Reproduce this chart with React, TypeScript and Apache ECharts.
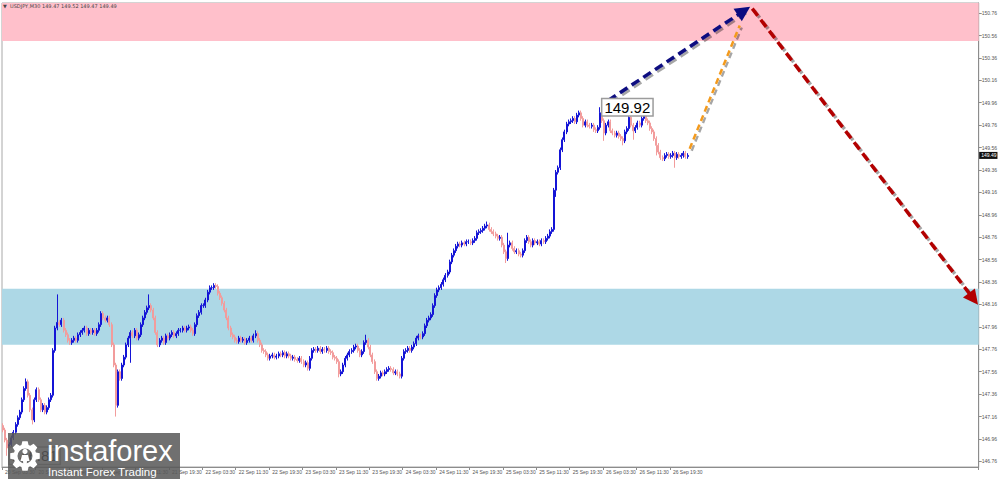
import React, { useEffect, useRef } from "react";
import * as echarts from "echarts";

// ---- data ----
const HEADER = ["USDJPY,M30", "149.47", "149.52", "149.47", "149.49"];
const FIRST_OPEN = 147.08;
const CLOSES: number[] = [
  147.04, 146.95, 146.88, 146.91, 146.97, 147.02, 147.09, 147.15, 147.2, 147.31,
  147.41, 147.47, 147.35, 147.22, 147.13, 147.31, 147.4, 147.31, 147.22, 147.26,
  147.2, 147.24, 147.31, 147.35, 147.75, 147.95, 148.0, 147.98, 148.02, 147.93,
  147.89, 147.84, 147.82, 147.84, 147.86, 147.84, 147.89, 147.91, 147.93, 147.95,
  147.9, 147.93, 147.91, 147.93, 147.9, 147.93, 147.98, 148.08, 148.04, 148.02,
  148.04, 147.98, 147.8, 147.62, 147.26, 147.56, 147.5, 147.62, 147.69, 147.8,
  147.86, 147.91, 147.88, 147.93, 147.86, 147.89, 147.98, 148.04, 148.09, 148.13,
  148.15, 148.11, 148.04, 147.91, 147.8, 147.84, 147.86, 147.82, 147.88, 147.86,
  147.89, 147.91, 147.88, 147.9, 147.93, 147.93, 147.95, 147.93, 147.95, 147.96,
  147.93, 147.9, 147.98, 148.06, 148.09, 148.15, 148.15, 148.2, 148.27, 148.31,
  148.31, 148.33, 148.32, 148.26, 148.22, 148.17, 148.11, 148.04, 147.95, 147.89,
  147.87, 147.84, 147.83, 147.86, 147.84, 147.85, 147.82, 147.84, 147.86, 147.84,
  147.88, 147.9, 147.84, 147.8, 147.75, 147.74, 147.71, 147.68, 147.7, 147.71,
  147.69, 147.7, 147.72, 147.71, 147.73, 147.7, 147.72, 147.7, 147.68, 147.69,
  147.67, 147.66, 147.68, 147.65, 147.62, 147.64, 147.59, 147.68, 147.75, 147.76,
  147.75, 147.77, 147.74, 147.76, 147.75, 147.77, 147.74, 147.73, 147.69, 147.68,
  147.65, 147.54, 147.56, 147.62, 147.68, 147.71, 147.74, 147.75, 147.78, 147.79,
  147.75, 147.71, 147.74, 147.82, 147.84, 147.78, 147.71, 147.65, 147.56, 147.5,
  147.52, 147.55, 147.54, 147.56, 147.58, 147.59, 147.58, 147.55, 147.56, 147.54,
  147.52, 147.68, 147.74, 147.75, 147.77, 147.75, 147.78, 147.81, 147.86, 147.88,
  147.87, 147.9, 147.97, 148.02, 148.04, 148.07, 148.15, 148.24, 148.29, 148.31,
  148.34, 148.38, 148.42, 148.45, 148.54, 148.6, 148.64, 148.68, 148.7, 148.69,
  148.71, 148.7, 148.72, 148.72, 148.71, 148.73, 148.75, 148.8, 148.81, 148.82,
  148.84, 148.86, 148.87, 148.83, 148.81, 148.79, 148.77, 148.75, 148.76, 148.69,
  148.63, 148.57, 148.69, 148.71, 148.66, 148.63, 148.64, 148.61, 148.6, 148.64,
  148.73, 148.76, 148.72, 148.69, 148.73, 148.71, 148.72, 148.7, 148.73, 148.72,
  148.75, 148.77, 148.81, 148.83, 149.18, 149.34, 149.38, 149.54, 149.63, 149.7,
  149.77, 149.79, 149.8, 149.82, 149.79, 149.85, 149.87, 149.82, 149.76, 149.79,
  149.76, 149.75, 149.76, 149.72, 149.71, 149.74, 149.87, 149.8, 149.69, 149.76,
  149.79, 149.71, 149.69, 149.67, 149.69, 149.66, 149.64, 149.62, 149.7, 149.73,
  149.83, 149.76, 149.71, 149.74, 149.78, 149.76, 149.82, 149.85, 149.8, 149.78,
  149.73, 149.7, 149.64, 149.58, 149.52, 149.47, 149.46, 149.49, 149.5, 149.48,
  149.49, 149.51, 149.47, 149.5, 149.48, 149.49, 149.51, 149.48, 149.49,
];
const WICK = 0.02;
const HIGH_WICKS: [number, number][] = [
  [11, 147.5], [16, 147.42], [24, 147.77], [26, 148.25], [70, 148.25], [101, 148.35],
  [121, 147.93], [174, 147.89], [232, 148.9], [242, 148.8], [276, 149.89], [286, 149.92],
  [300, 149.85], [307, 149.87],
];
const LOW_WICKS: [number, number][] = [
  [2, 146.81], [14, 147.09], [54, 147.16], [61, 147.64], [146, 147.57], [161, 147.51],
  [241, 148.53], [265, 149.12], [288, 149.62], [297, 149.58], [302, 149.63], [313, 149.49],
  [322, 149.38],
];
const N_CATEGORIES = 468;
const LABEL_EVERY = 16;
const TICK_LABELS = [
  "20 Sep 03:30", "20 Sep 11:30", "20 Sep 19:30", "21 Sep 03:30", "21 Sep 11:30",
  "21 Sep 19:30", "22 Sep 03:30", "22 Sep 11:30", "22 Sep 19:30", "23 Sep 03:30",
  "23 Sep 11:30", "23 Sep 19:30", "24 Sep 03:30", "24 Sep 11:30", "24 Sep 19:30",
  "25 Sep 03:30", "25 Sep 11:30", "25 Sep 19:30", "26 Sep 03:30", "26 Sep 11:30",
  "26 Sep 19:30",
];
const Y_TICKS = [
  146.76, 146.96, 147.16, 147.36, 147.56, 147.76, 147.96, 148.16, 148.36, 148.56,
  148.76, 148.96, 149.16, 149.36, 149.56, 149.76, 149.96, 150.16, 150.36, 150.56, 150.76,
];
const Y_MIN = 146.71;
const Y_MAX = 150.85;
const PINK_ZONE = [150.51, 150.85];
const BLUE_ZONE = [147.8, 148.3];
const FORECAST_UP: [number, number][] = [[290, 149.98], [355, 150.78]];
const FORECAST_ALT: [number, number][] = [[329, 149.55], [353, 150.65]];
const FORECAST_DOWN: [number, number][] = [[359, 150.8], [465, 148.21]];
const LAST_PRICE = 149.49;

function gearPath(R: number, r: number, hole: number, teeth: number) {
  const pts: string[] = [];
  const w = Math.PI / teeth;
  for (let k = 0; k < teeth; k++) {
    const a = k * 2 * w - Math.PI / 2;
    const list: [number, number][] = [
      [r, a - w * 0.8],
      [R, a - w * 0.45],
      [R, a + w * 0.45],
      [r, a + w * 0.8],
    ];
    list.forEach(([rad, ang]) => {
      pts.push((rad * Math.cos(ang)).toFixed(2) + " " + (rad * Math.sin(ang)).toFixed(2));
    });
  }
  let d = "M" + pts[0] + " L" + pts.slice(1).join(" L") + " Z";
  d += ` M${hole} 0 A${hole} ${hole} 0 1 0 ${-hole} 0 A${hole} ${hole} 0 1 0 ${hole} 0 Z`;
  return d;
}

let registered = false;

export default function App() {
  const ref = useRef<HTMLDivElement>(null);
  useEffect(() => {
    if (!ref.current) return;
    if (!registered) {
      echarts.graphic.registerShape("gear", echarts.graphic.extendPath(gearPath(15, 11.5, 7.5, 8), {}));
      registered = true;
    }
    const chart = echarts.init(ref.current, null, { renderer: "svg" });

    const highMap = new Map(HIGH_WICKS);
    const lowMap = new Map(LOW_WICKS);
    const candles = CLOSES.map((c, i) => {
      const o = i === 0 ? FIRST_OPEN : CLOSES[i - 1];
      const hi = highMap.has(i) ? (highMap.get(i) as number) : Math.max(o, c) + WICK;
      const lo = lowMap.has(i) ? (lowMap.get(i) as number) : Math.min(o, c) - WICK;
      return [o, c, lo, hi];
    });
    let maxI = 0;
    let minI = 0;
    candles.forEach((d, i) => {
      if (d[3] > candles[maxI][3]) maxI = i;
      if (d[2] < candles[minI][2]) minI = i;
    });
    const categories = Array.from({ length: N_CATEGORIES }, (_, i) => String(i));
    const isLabelled = (idx: number) => idx % LABEL_EVERY === 0 && idx / LABEL_EVERY < TICK_LABELS.length;

    const priceLabel = {
      show: true,
      position: "right",
      distance: 2,
      fontSize: 15,
      color: "#000",
      fontFamily: "Liberation Sans",
      backgroundColor: "#fff",
      borderColor: "#9c9c9c",
      borderWidth: 1.5,
      padding: [1, 2, 0, 2],
    };

    const dashShadow = {
      shadowColor: "rgba(0,0,0,0.35)",
      shadowBlur: 1,
      shadowOffsetX: 2,
      shadowOffsetY: 2,
    };

    chart.setOption({
      animation: false,
      backgroundColor: "#ffffff",
      textStyle: { fontFamily: "Liberation Sans" },
      grid: { left: 2, right: 20, top: 3, bottom: 12, show: true, borderColor: "#a8a8a8", borderWidth: 1 },
      xAxis: {
        type: "category",
        data: categories,
        boundaryGap: true,
        axisLine: { show: true, lineStyle: { color: "#8c8c8c", width: 1 } },
        axisTick: { show: true, interval: (idx: number) => isLabelled(idx), length: 3, lineStyle: { color: "#8c8c8c" } },
        axisLabel: {
          show: true,
          interval: (idx: number) => isLabelled(idx),
          align: "left",
          margin: 2,
          fontSize: 5,
          color: "#555",
          padding: [0, 0, 0, 2],
          formatter: (_v: string, idx: number) => TICK_LABELS[idx / LABEL_EVERY] ?? "",
        },
        splitLine: { show: false },
      },
      yAxis: {
        type: "value",
        position: "right",
        min: Y_MIN,
        max: Y_MAX,
        scale: true,
        axisLine: { show: true, lineStyle: { color: "#8c8c8c", width: 1 } },
        axisTick: { show: true, length: 3, customValues: Y_TICKS, lineStyle: { color: "#8c8c8c" } },
        axisLabel: {
          show: true,
          customValues: Y_TICKS,
          fontSize: 5,
          color: "#555",
          margin: 3,
          formatter: (v: number) => v.toFixed(2),
        },
        splitLine: { show: false },
      },
      series: [
        {
          type: "candlestick",
          data: candles,
          barWidth: 1.5,
          z: 2,
          silent: true,
          itemStyle: {
            color: "#1414d6",
            color0: "#f29c9c",
            borderColor: "#1414d6",
            borderColor0: "#f29c9c",
            borderWidth: 1,
          },
          markArea: {
            silent: true,
            z: 1,
            data: [
              [{ yAxis: PINK_ZONE[0], itemStyle: { color: "#ffc0cb" } }, { yAxis: PINK_ZONE[1] }],
              [{ yAxis: BLUE_ZONE[0], itemStyle: { color: "#add8e6" } }, { yAxis: BLUE_ZONE[1] }],
            ],
          },
          markLine: {
            silent: true,
            z: 6,
            symbol: ["none", "triangle"],
            symbolSize: 15,
            label: { show: false },
            emphasis: { disabled: true },
            data: [
              [
                { coord: FORECAST_ALT[0], lineStyle: { color: "#f39a1e", width: 2.5, type: [6, 4], ...dashShadow } },
                { coord: FORECAST_ALT[1], symbol: "none" },
              ],
              [
                { coord: FORECAST_UP[0], lineStyle: { color: "#0a0a80", width: 3.5, type: [9, 5], ...dashShadow } },
                { coord: FORECAST_UP[1] },
              ],
              [
                { coord: FORECAST_DOWN[0], lineStyle: { color: "#b30000", width: 3.5, type: [9, 5], ...dashShadow } },
                { coord: FORECAST_DOWN[1] },
              ],
            ],
          },
          markPoint: {
            silent: true,
            z: 7,
            symbol: "rect",
            symbolSize: 1,
            itemStyle: { color: "rgba(0,0,0,0)" },
            data: [
              { coord: [maxI, candles[maxI][3]], label: { ...priceLabel, formatter: candles[maxI][3].toFixed(2) } },
              { coord: [minI, candles[minI][2]], label: { ...priceLabel, formatter: candles[minI][2].toFixed(2) } },
              {
                coord: [N_CATEGORIES - 1, LAST_PRICE],
                label: {
                  show: true,
                  position: "right",
                  distance: 1,
                  fontSize: 5,
                  color: "#fff",
                  backgroundColor: "#111",
                  padding: [1, 1, 1, 2],
                  formatter: LAST_PRICE.toFixed(2),
                },
              },
            ],
          },
        },
      ],
      graphic: [
        {
          type: "text",
          z: 100,
          left: 3,
          top: 3,
          style: {
            text: "▼  " + HEADER.join(" "),
            fontSize: 5,
            fill: "#444",
            fontFamily: "DejaVu Sans",
          },
        },
        {
          type: "group",
          z: 100,
          children: [
            {
              type: "rect",
              z: 100,
              shape: { x: 8, y: 433, width: 172, height: 46 },
              style: { fill: "rgba(88,88,88,0.86)" },
            },
            {
              type: "gear",
              z: 101,
              x: 25,
              y: 456,
              style: { fill: "#ffffff" },
            },
            {
              type: "circle",
              z: 101,
              shape: { cx: 25, cy: 451.5, r: 2.6 },
              style: { fill: "#ffffff" },
            },
            {
              type: "polygon",
              z: 101,
              shape: { points: [[20.5, 461], [22, 455], [28, 455], [29.5, 461], [27, 461], [26.5, 466], [23.5, 466], [23, 461]] },
              style: { fill: "#ffffff" },
            },
            {
              type: "text",
              z: 101,
              x: 47,
              y: 451,
              style: {
                text: "instaforex",
                fontSize: 29,
                fontFamily: "Liberation Sans",
                fill: "#ffffff",
                verticalAlign: "middle",
              },
            },
            {
              type: "text",
              z: 101,
              x: 48,
              y: 472,
              style: {
                text: "Instant Forex Trading",
                fontSize: 11.5,
                fontFamily: "Liberation Sans",
                fill: "#ffffff",
                verticalAlign: "middle",
              },
            },
          ],
        },
      ],
    });
    return () => chart.dispose();
  }, []);
  return <div ref={ref} style={{ position: "fixed", left: 0, top: 0, width: 1000, height: 479 }} />;
}
